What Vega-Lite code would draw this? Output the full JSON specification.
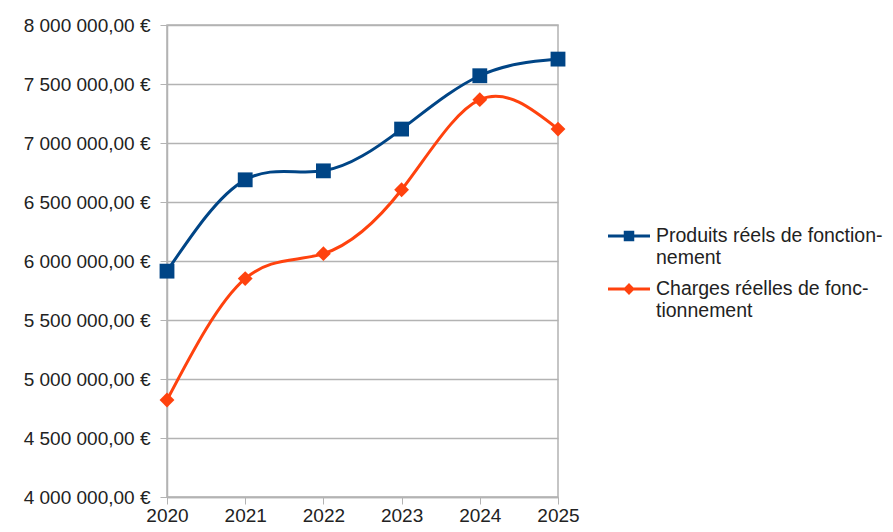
{
  "$schema": "https://vega.github.io/schema/vega-lite/v6.json",
  "width": 391,
  "height": 472,
  "autosize": {"type": "none"},
  "padding": {"left": 167, "top": 25, "right": 335, "bottom": 35},
  "config": {
    "font": "Liberation Sans",
    "view": {"stroke": "#b3b3b3", "strokeWidth": 1.5},
    "locale": {"number": {"decimal": ",", "thousands": " ", "grouping": [3], "currency": ["", " €"]}}
  },
  "data": {
    "values": [
      {"annee": 2020, "serie": "Produits réels de fonctionnement", "montant": 5914000},
      {"annee": 2021, "serie": "Produits réels de fonctionnement", "montant": 6688000},
      {"annee": 2022, "serie": "Produits réels de fonctionnement", "montant": 6764000},
      {"annee": 2023, "serie": "Produits réels de fonctionnement", "montant": 7118000},
      {"annee": 2024, "serie": "Produits réels de fonctionnement", "montant": 7570000},
      {"annee": 2025, "serie": "Produits réels de fonctionnement", "montant": 7711000},
      {"annee": 2020, "serie": "Charges réelles de fonctionnement", "montant": 4822000},
      {"annee": 2021, "serie": "Charges réelles de fonctionnement", "montant": 5851000},
      {"annee": 2022, "serie": "Charges réelles de fonctionnement", "montant": 6062000},
      {"annee": 2023, "serie": "Charges réelles de fonctionnement", "montant": 6604000},
      {"annee": 2024, "serie": "Charges réelles de fonctionnement", "montant": 7367000},
      {"annee": 2025, "serie": "Charges réelles de fonctionnement", "montant": 7118000}
    ]
  },
  "encoding": {
    "x": {
      "field": "annee", "type": "quantitative",
      "scale": {"domain": [2020, 2025], "nice": false, "zero": false},
      "axis": {
        "title": null, "values": [2020, 2021, 2022, 2023, 2024, 2025], "format": "d",
        "grid": false, "domainColor": "#b3b3b3", "domainWidth": 1.5, "tickColor": "#b3b3b3", "tickSize": 7,
        "labelFontSize": 19, "labelColor": "#222", "labelPadding": 2, "labelFlush": false
      }
    },
    "y": {
      "field": "montant", "type": "quantitative",
      "scale": {"domain": [4000000, 8000000], "nice": false, "zero": false},
      "axis": {
        "title": null, "values": [4000000, 4500000, 5000000, 5500000, 6000000, 6500000, 7000000, 7500000, 8000000],
        "labelExpr": "format(datum.value, ',.2f') + ' €'",
        "gridColor": "#b3b3b3", "gridWidth": 1.5, "domainColor": "#b3b3b3", "domainWidth": 1.5,
        "tickColor": "#b3b3b3", "tickSize": 7, "labelFontSize": 19, "labelColor": "#222", "labelPadding": 10
      }
    },
    "color": {
      "field": "serie", "type": "nominal",
      "scale": {"domain": ["Produits réels de fonctionnement", "Charges réelles de fonctionnement"], "range": ["#004586", "#ff420e"]},
      "legend": {
        "title": null, "orient": "none", "legendX": 441, "legendY": 190,
        "symbolSize": 1764, "labelFontSize": 19.5, "labelColor": "#222", "labelLimit": 300, "rowPadding": 1, "labelOffset": 6,
        "labelExpr": "datum.label == 'Produits réels de fonctionnement' ? ['Produits réels de fonction-', 'nement'] : ['Charges réelles de fonc-', 'tionnement']",
        "encode": {
          "symbols": {
            "update": {
              "shape": {"signal": "datum.value == 'Produits réels de fonctionnement' ? 'M-1,-0.07H-0.25V-0.25H0.25V-0.07H1V0.07H0.25V0.25H-0.25V0.07H-1Z' : 'M-1,-0.07H-0.21L0,-0.28L0.21,-0.07H1V0.07H0.21L0,0.28L-0.21,0.07H-1Z'"},
              "fill": {"signal": "scale('color', datum.value)"},
              "fillOpacity": {"value": 1},
              "strokeWidth": {"value": 0},
              "opacity": {"value": 1}
            }
          }
        }
      }
    }
  },
  "layer": [
    {"mark": {"type": "line", "interpolate": "natural", "strokeWidth": 3}},
    {
      "transform": [{"filter": "datum.serie == 'Produits réels de fonctionnement'"}],
      "mark": {"type": "point", "filled": true, "opacity": 1, "size": 220, "shape": "square"}
    },
    {
      "transform": [{"filter": "datum.serie == 'Charges réelles de fonctionnement'"}],
      "mark": {"type": "point", "filled": true, "opacity": 1, "size": 220, "shape": "diamond"}
    }
  ]
}
